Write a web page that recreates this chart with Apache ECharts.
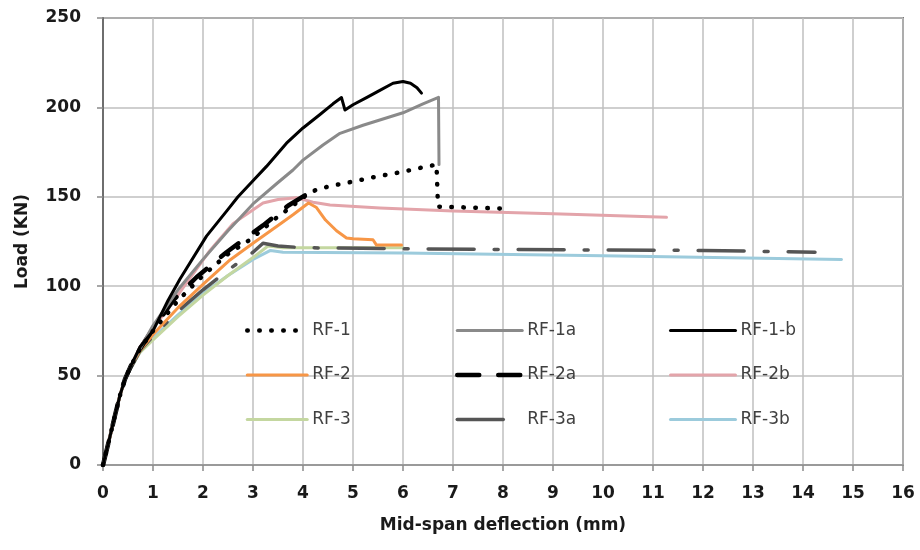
<!DOCTYPE html>
<html>
<head>
<meta charset="utf-8">
<script src="https://cdn.jsdelivr.net/npm/echarts@6/dist/echarts.min.js"></script>
<style>
  html, body { margin: 0; padding: 0; background: #ffffff; }
  #chart { width: 920px; height: 550px; }
</style>
</head>
<body>
<div id="chart"></div>
<script>
// Load–deflection curves, [deflection (mm), load (kN)]
const rf1 = [[0,0],[0.07,8],[0.14,16],[0.25,29],[0.34,39],[0.44,48],[0.55,55],[0.74,65],[1,75],[1.5,92],[2,106],[2.5,118],[2.94,126],[3.5,139],[3.7,143],[4.07,151],[4.27,154],[4.54,156],[5,158.5],[5.47,161.3],[6,164],[6.4,166.5],[6.67,168],[6.7,144.5],[7.94,143.5]];
const rf1a = [[0,0],[0.07,8],[0.14,16],[0.25,29],[0.34,39],[0.44,48],[0.55,55],[0.74,65],[1,78],[1.5,98],[2,115],[2.5,131],[3,146],[3.5,158],[3.8,165],[4,170.5],[4.4,179],[4.74,185.5],[5.2,190],[5.6,193.5],[6,197],[6.4,202],[6.71,205.6],[6.72,168]];
const rf1b = [[0,0],[0.07,8],[0.14,16],[0.25,29],[0.34,39],[0.44,48],[0.55,55],[0.74,66],[1,75],[1.3,92],[1.54,104],[2.07,128],[2.5,143],[2.7,150],[3,159],[3.27,167],[3.67,180],[4,188.5],[4.34,196],[4.6,202],[4.77,205.5],[4.84,198.5],[5,201.5],[5.27,205.5],[5.5,209],[5.8,213.5],[6,214.5],[6.15,213.5],[6.28,211],[6.37,208]];
const rf2 = [[0,0],[0.07,8],[0.14,16],[0.25,29],[0.34,39],[0.44,48],[0.55,55],[0.74,64],[1,73],[1.5,88],[2,101],[2.54,114.7],[3,124],[3.5,134],[3.8,140],[4.11,146.5],[4.27,144],[4.45,137],[4.67,131],[4.87,127],[5,126.5],[5.4,126],[5.47,123],[5.97,123]];
const rf2a = [[0,0],[0.07,8],[0.14,16],[0.25,29],[0.34,39],[0.44,48],[0.55,55],[0.74,65],[1,76],[1.4,92],[1.87,105],[2.47,119],[3.2,134],[3.7,145],[4.05,151]];
const rf2b = [[0,0],[0.07,8],[0.14,16],[0.25,29],[0.34,39],[0.44,48],[0.55,55],[0.74,66],[1,77],[1.27,86],[1.6,99],[2.14,120],[2.6,135],[3.2,146.5],[3.5,148.5],[3.87,149.5],[4.2,147],[4.54,145.4],[5.54,143.7],[7,142],[9,140.5],[11.27,138.5]];
const rf3 = [[0,0],[0.07,8],[0.14,16],[0.25,29],[0.34,39],[0.44,48],[0.55,54],[0.74,63],[1,70],[1.5,83],[2,95],[2.5,106],[3,116],[3.3,122.5],[3.6,121.5],[6,121.5]];
const rf3a = [[0,0],[0.07,8],[0.14,16],[0.25,29],[0.34,39],[0.44,48],[0.55,54],[0.74,64],[1,72],[1.5,86],[2,98],[2.5,109],[3,119],[3.2,124],[3.5,122.5],[4,121.5],[8,120.5],[12,120],[14.24,119]];
const rf3b = [[0,0],[0.07,8],[0.14,16],[0.25,29],[0.34,39],[0.44,48],[0.55,54],[0.74,63],[1,71],[1.5,84],[2,96],[2.5,106],[3,115],[3.35,120],[3.6,119],[6,118.5],[10,117],[14.77,115]];

const seriesNames = ['RF-1','RF-1a','RF-1-b','RF-2','RF-2a','RF-2b','RF-3','RF-3a','RF-3b'];
const xTicks = [0,1,2,3,4,5,6,7,8,9,10,11,12,13,14,15,16];
const yTicks = [0,50,100,150,200,250];

const FONT = 'DejaVu Sans';

function line(name, data, color, width, type, z) {
  return {
    name: name,
    type: 'line',
    data: data,
    symbol: 'none',
    smooth: false,
    z: z,
    lineStyle: { color: color, width: width, type: type, cap: 'round', join: 'round' },
    itemStyle: { color: color },
    emphasis: { disabled: true }
  };
}

const chart = echarts.init(document.getElementById('chart'), null, { renderer: 'canvas' });

// three legend columns laid over the plot, rows aligned across columns
const legendBase = {
  orient: 'vertical',
  top: 322,
  padding: 0,
  itemHeight: 17,
  itemGap: 27.5,
  selectedMode: false,
  itemStyle: { opacity: 0 },
  lineStyle: { width: 'inherit' },
  textStyle: { fontFamily: FONT, fontSize: 17, color: '#404040' }
};

chart.setOption({
  animation: false,
  backgroundColor: '#ffffff',
  grid: {
    left: 103, right: 17, top: 18, bottom: 85,
    show: true, borderColor: '#7a7a7a', borderWidth: 2
  },
  legend: [
    Object.assign({}, legendBase, { left: 245, itemWidth: 60, data: [seriesNames[0], seriesNames[3], seriesNames[6]] }),
    Object.assign({}, legendBase, { left: 455, itemWidth: 65, data: [seriesNames[1], seriesNames[4], seriesNames[7]] }),
    Object.assign({}, legendBase, { left: 669, itemWidth: 65, data: [seriesNames[2], seriesNames[5], seriesNames[8]] })
  ],
  xAxis: {
    type: 'value',
    min: xTicks[0], max: xTicks[xTicks.length - 1], interval: 1,
    name: 'Mid-span deflection (mm)',
    nameLocation: 'middle',
    nameGap: 52,
    nameTextStyle: { fontFamily: FONT, fontSize: 17, fontWeight: 'bold', color: '#1a1a1a' },
    axisLine: { show: true, onZero: false, lineStyle: { color: '#9a9a9a', width: 2 } },
    axisTick: { show: true, length: 6, lineStyle: { color: '#8a8a8a', width: 1.5 } },
    axisLabel: { margin: 20, fontFamily: FONT, fontSize: 17, fontWeight: 'bold', color: '#1a1a1a' },
    splitLine: { show: true, lineStyle: { color: '#bfbfbf', width: 1.5 } }
  },
  yAxis: {
    type: 'value',
    min: yTicks[0], max: yTicks[yTicks.length - 1], interval: 50,
    name: 'Load (KN)',
    nameLocation: 'middle',
    nameGap: 72,
    nameTextStyle: { fontFamily: FONT, fontSize: 17, fontWeight: 'bold', color: '#1a1a1a' },
    axisLine: { show: true, lineStyle: { color: '#6e6e6e', width: 2 } },
    axisTick: { show: true, length: 6, lineStyle: { color: '#8a8a8a', width: 1.5 } },
    axisLabel: { margin: 22, fontFamily: FONT, fontSize: 17, fontWeight: 'bold', color: '#1a1a1a' },
    splitLine: { show: true, lineStyle: { color: '#bfbfbf', width: 1.5 } }
  },
  series: [
    line('RF-3b', rf3b, '#9ccbdc', 3, 'solid', 2),
    line('RF-3', rf3, '#c4d7a0', 3, 'solid', 3),
    line('RF-3a', rf3a, '#555555', 3.5, [46, 20, 4, 20], 4),
    line('RF-2b', rf2b, '#e3a4aa', 3, 'solid', 5),
    line('RF-2', rf2, '#f79646', 3, 'solid', 6),
    line('RF-2a', rf2a, '#000000', 4.5, [22, 19], 7),
    line('RF-1a', rf1a, '#8a8a8a', 3, 'solid', 8),
    line('RF-1', rf1, '#000000', 4.5, [0.5, 11.5], 9),
    line('RF-1-b', rf1b, '#000000', 3, 'solid', 10)
  ]
});
</script>
</body>
</html>
